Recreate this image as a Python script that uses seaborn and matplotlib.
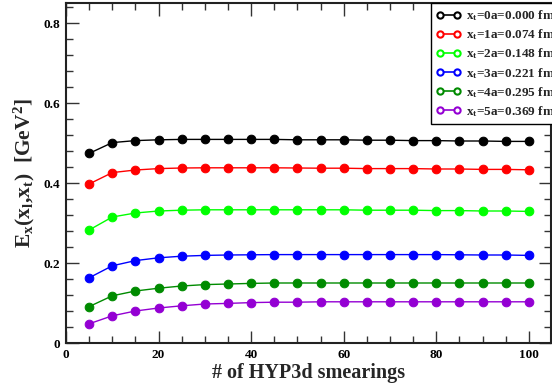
import numpy as np
import pandas as pd
import matplotlib
matplotlib.use("Agg")
import matplotlib.pyplot as plt
from matplotlib.lines import Line2D
from matplotlib.ticker import MultipleLocator
import seaborn as sns

smearings = [5, 10, 15, 20, 25, 30, 35, 40, 45, 50, 55, 60, 65, 70, 75, 80, 85, 90, 95, 100]

xt0 = [0.474, 0.501, 0.506, 0.508, 0.509, 0.509, 0.509, 0.509, 0.509, 0.508, 0.508, 0.508, 0.507,
       0.507, 0.506, 0.506, 0.505, 0.505, 0.504, 0.504]
xt1 = [0.3975, 0.426, 0.4325, 0.436, 0.4375, 0.438, 0.438, 0.438, 0.438, 0.4375, 0.437, 0.437, 0.436,
       0.436, 0.436, 0.435, 0.435, 0.434, 0.434, 0.433]
xt2 = [0.2825, 0.315, 0.325, 0.330, 0.332, 0.333, 0.333, 0.333, 0.333, 0.333, 0.333, 0.333, 0.332,
       0.332, 0.332, 0.331, 0.331, 0.330, 0.330, 0.329]
xt3 = [0.163, 0.193, 0.206, 0.213, 0.217, 0.219, 0.220, 0.2205, 0.221, 0.221, 0.221, 0.221, 0.221,
       0.221, 0.221, 0.221, 0.2205, 0.220, 0.220, 0.219]
xt4 = [0.091, 0.118, 0.130, 0.137, 0.1425, 0.146, 0.1475, 0.149, 0.150, 0.150, 0.150, 0.150, 0.150,
       0.150, 0.150, 0.150, 0.150, 0.150, 0.150, 0.150]
xt5 = [0.048, 0.068, 0.080, 0.0875, 0.093, 0.0975, 0.099, 0.101, 0.102, 0.102, 0.103, 0.103, 0.103,
       0.103, 0.103, 0.103, 0.103, 0.103, 0.103, 0.103]

labels = [r"x$_\mathbf{t}$=0a=0.000 fm", r"x$_\mathbf{t}$=1a=0.074 fm", r"x$_\mathbf{t}$=2a=0.148 fm",
          r"x$_\mathbf{t}$=3a=0.221 fm", r"x$_\mathbf{t}$=4a=0.295 fm", r"x$_\mathbf{t}$=5a=0.369 fm"]
colors = ["#000000", "#ff0000", "#00ff00", "#0000ff", "#008b00", "#9400d3"]
series = [xt0, xt1, xt2, xt3, xt4, xt5]

sns.set_style("ticks")
plt.rcParams["font.family"] = ["Liberation Serif", "DejaVu Serif"]
plt.rcParams["font.weight"] = "bold"
plt.rcParams["mathtext.fontset"] = "custom"
plt.rcParams["mathtext.rm"] = "Liberation Serif:bold"
plt.rcParams["mathtext.it"] = "Liberation Serif:bold"
plt.rcParams["mathtext.bf"] = "Liberation Serif:bold"

fig = plt.figure(figsize=(5.52, 3.87), dpi=100)
ax = fig.add_axes([66 / 552, 44 / 387, 485 / 552, 340 / 387])

for vals, c in zip(series, colors):
    df = pd.DataFrame({"n": smearings, "E": vals})
    sns.lineplot(data=df, x="n", y="E", ax=ax, color=c, marker="o", markersize=6.2,
                 markeredgecolor=c, markerfacecolor=c, linewidth=1.0)

ax.set_xlim(0, 104.8)
ax.set_ylim(0, 0.85)
ax.xaxis.set_minor_locator(MultipleLocator(5))
ax.yaxis.set_minor_locator(MultipleLocator(0.04))
ax.set_xticks([0, 20, 40, 60, 80, 100])
ax.set_xticklabels(["0", "20", "40", "60", "80", "100"])
ax.set_yticks([0, 0.2, 0.4, 0.6, 0.8])
ax.set_yticklabels(["0", "0.2", "0.4", "0.6", "0.8"])
ax.tick_params(which="both", direction="in", top=True, right=True, width=1, colors="#333333",
               labelcolor="black", labelsize=9.5)
ax.tick_params(which="major", length=9, pad=4)
ax.tick_params(which="minor", length=5)
for lbl in ax.get_xticklabels() + ax.get_yticklabels():
    lbl.set_fontweight("bold")
for s in ax.spines.values():
    s.set_linewidth(1.5)
    s.set_color("#222222")

ax.set_xlabel("# of HYP3d smearings", fontsize=14.5, fontweight="bold", labelpad=2)
ax.set_ylabel(r"E$_\mathbf{x}$(x$_\mathbf{l}$,x$_\mathbf{t}$)  [GeV$^\mathbf{2}$]", fontsize=15.5,
              fontweight="bold", labelpad=5)

handles = [Line2D([0, 1], [0, 0], color=c, marker="o", markersize=4.5, markerfacecolor="white",
                  markeredgecolor=c, markeredgewidth=1.5, linewidth=1.2) for c in colors]
leg = fig.legend(handles, labels, loc="upper left", bbox_to_anchor=(431 / 552, 1 - 3 / 387),
                 frameon=True, fancybox=False, edgecolor="black", framealpha=1, numpoints=2,
                 prop={"family": "Liberation Serif", "weight": "bold", "size": 9.5},
                 handlelength=1.9, handletextpad=0.35, labelspacing=0.33, borderaxespad=0,
                 borderpad=0.4)
leg.get_frame().set_linewidth(1.0)

fig.savefig("out.png", dpi=100)
